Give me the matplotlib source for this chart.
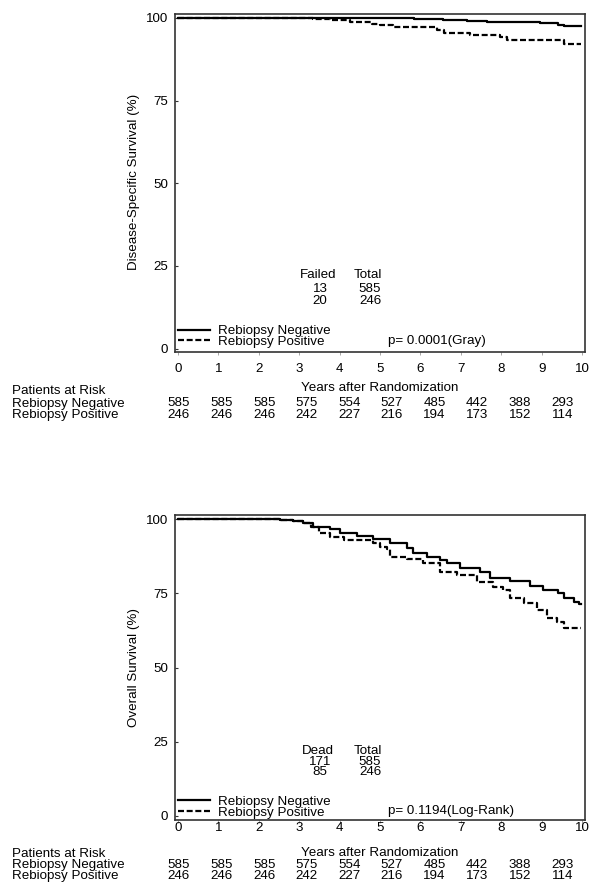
import matplotlib
matplotlib.use("Agg")
import matplotlib.pyplot as plt

plt.rcParams['font.family'] = ['Liberation Sans', 'DejaVu Sans']

# ---------------- data ----------------
years_ticks = list(range(0, 11))
y_ticks = [0, 25, 50, 75, 100]

dss_neg_t = [0, 5.85, 6.55, 7.15, 7.64, 8.38, 8.96, 9.41, 9.54, 9.98]
dss_neg_s = [100, 99.8, 99.5, 99.2, 98.9, 98.7, 98.4, 98.0, 97.6, 97.6]
dss_pos_t = [0, 3.35, 3.76, 4.26, 4.79, 5.0, 5.33, 6.40, 6.57, 7.23, 7.97, 8.14, 9.54, 9.98]
dss_pos_s = [100, 99.8, 99.3, 98.8, 98.3, 97.8, 97.3, 96.3, 95.6, 94.9, 94.2, 93.2, 92.0, 92.0]

os_neg_t = [0, 2.52, 2.85, 3.10, 3.35, 3.76, 4.01, 4.42, 4.83, 5.25, 5.66, 5.82, 6.16,
            6.49, 6.65, 6.98, 7.48, 7.72, 8.22, 8.71, 9.04, 9.41, 9.54, 9.79, 9.92, 9.98]
os_neg_s = [100, 99.8, 99.3, 98.6, 97.5, 96.6, 95.5, 94.4, 93.3, 91.9, 90.3, 88.6, 87.4,
            86.2, 85.2, 83.5, 82.4, 80.1, 79.3, 77.5, 76.2, 75.1, 73.4, 72.2, 71.3, 71.3]
os_pos_t = [0, 2.52, 2.85, 3.10, 3.30, 3.50, 3.76, 4.10, 4.83, 5.00, 5.17, 5.25, 5.66,
            6.07, 6.49, 6.90, 7.39, 7.80, 8.05, 8.22, 8.55, 8.88, 9.13, 9.37, 9.54, 9.98]
os_pos_s = [100, 99.8, 99.3, 98.6, 97.5, 95.4, 94.1, 93.0, 92.0, 90.8, 89.9, 87.4, 86.5,
            85.2, 82.4, 81.2, 79.0, 77.3, 76.2, 73.4, 71.7, 69.4, 66.6, 65.5, 63.2, 63.2]

risk_neg = [585, 585, 585, 575, 554, 527, 485, 442, 388, 293]
risk_pos = [246, 246, 246, 242, 227, 216, 194, 173, 152, 114]

group_labels = ["Rebiopsy Negative", "Rebiopsy Positive"]
dss_failed = [13, 20]
os_dead = [171, 85]
totals = [585, 246]

# ---------------- layout ----------------
W, H = 602, 896
fig = plt.figure(figsize=(W / 100, H / 100), dpi=100)
FS = 9.6

def fx(px):
    return px / W

def fy(py):
    return 1 - py / H

def make_axes(top_px, bot_px):
    return fig.add_axes([fx(175), fy(bot_px), (585 - 175) / W, (bot_px - top_px) / H])

def style_axes(ax, ylim, xpad):
    ax.set_xlim(-0.074, 10.07)
    ax.set_ylim(*ylim)
    ax.set_xticks(years_ticks)
    ax.set_yticks(y_ticks)
    for s in ax.spines.values():
        s.set_linewidth(1.2)
        s.set_color('#333333')
    ax.tick_params(axis='x', direction='out', length=2, width=0.6, color='#999999',
                   labelsize=FS, pad=xpad)
    ax.tick_params(axis='y', direction='in', length=2, width=0.8, color='#333333',
                   labelsize=FS, pad=5)

dash = (0, (2.7, 1.2))

def draw_panel(ax, neg_t, neg_s, pos_t, pos_s, ylim, xpad, ylabel_text, ylabel_y,
               head1, counts, pval, rows_y, p_y, years_y, par_y, risk_y, leg_y):
    l1, = ax.step(neg_t, neg_s, where='post', color='black', lw=1.6)
    l2, = ax.step(pos_t, pos_s, where='post', color='black', lw=1.6, linestyle=dash)
    style_axes(ax, ylim, xpad)
    ax.legend([l1, l2], group_labels, loc='lower left',
              bbox_to_anchor=(0.008, leg_y), frameon=False, fontsize=FS,
              handlelength=2.4, handletextpad=0.6, labelspacing=-0.12,
              borderpad=0.0, borderaxespad=0.0)
    fig.text(fx(134), fy(ylabel_y), ylabel_text, rotation=90, ha='center', va='center',
             fontsize=FS)
    # summary block
    fig.text(fx(318), fy(rows_y[0]), head1, ha='center', va='center', fontsize=FS)
    fig.text(fx(368), fy(rows_y[0]), "Total", ha='center', va='center', fontsize=FS)
    for i in range(2):
        fig.text(fx(320), fy(rows_y[i + 1]), str(counts[i]), ha='center', va='center', fontsize=FS)
        fig.text(fx(370), fy(rows_y[i + 1]), str(totals[i]), ha='center', va='center', fontsize=FS)
    fig.text(fx(388), fy(p_y), pval, ha='left', va='center', fontsize=FS)
    # x title and risk table
    fig.text(fx(380), fy(years_y), "Years after Randomization", ha='center', va='center', fontsize=FS)
    fig.text(fx(12), fy(par_y), "Patients at Risk", ha='left', va='center', fontsize=FS)
    for j, lab in enumerate(group_labels):
        fig.text(fx(12), fy(risk_y[j]), lab, ha='left', va='center', fontsize=FS)
    for k in range(len(risk_neg)):
        xp = 179 + k * 42.6
        fig.text(fx(xp), fy(risk_y[0]), str(risk_neg[k]), ha='center', va='center', fontsize=FS)
        fig.text(fx(xp), fy(risk_y[1]), str(risk_pos[k]), ha='center', va='center', fontsize=FS)

ax1 = make_axes(14, 352)
draw_panel(ax1, dss_neg_t, dss_neg_s, dss_pos_t, dss_pos_s, (-1.03, 101.2), 6,
           "Disease-Specific Survival (%)", 182, "Failed", dss_failed,
           "p= 0.0001(Gray)", [275, 289.3, 300.5], 341, 388, 391, [403.5, 414.5], 0.012)

ax2 = make_axes(515, 820)
draw_panel(ax2, os_neg_t, os_neg_s, os_pos_t, os_pos_s, (-1.35, 101.45), -0.5,
           "Overall Survival (%)", 667, "Dead", os_dead,
           "p= 0.1194(Log-Rank)", [750.7, 761.7, 772], 811, 852.5, 854, [865, 876], 0.004)

fig.savefig("out.png", dpi=100)
